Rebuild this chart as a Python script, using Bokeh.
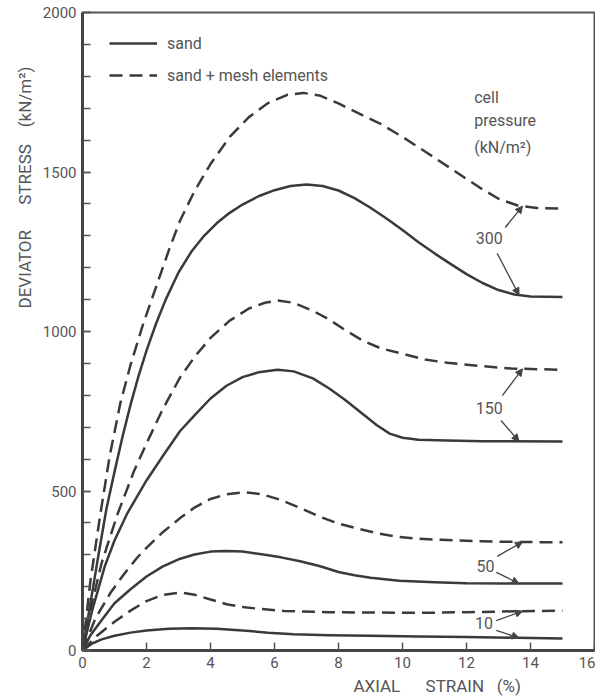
import numpy as np
from bokeh.plotting import figure
from bokeh.models import (Range1d, SingleIntervalTicker, Label, Arrow, NormalHead,
                          Legend, LegendItem, Title)
from bokeh.embed import file_html
from bokeh.resources import INLINE

# ---------------- data ----------------
# axial strain (%) / deviator stress (kN/m2)
sand_300_x = [0, 0.25, 0.5, 0.75, 1.0, 1.25, 1.5, 1.75, 2.0, 2.3, 2.6, 3.0, 3.4, 3.8, 4.2, 4.6, 5.0, 5.5, 6.0, 6.5, 7.0, 7.5, 8.0, 8.5, 9.0, 9.5, 10.0, 10.5, 11.0, 11.5, 12.0, 12.5, 13.0, 13.5, 14.0, 15.0]
sand_300_y = [0, 150, 300, 445, 560, 670, 770, 860, 940, 1025, 1100, 1185, 1250, 1300, 1340, 1372, 1398, 1424, 1443, 1456, 1461, 1456, 1442, 1418, 1388, 1354, 1318, 1280, 1245, 1212, 1180, 1152, 1130, 1116, 1110, 1108]

mesh_300_x = [0, 0.25, 0.56, 0.85, 1.18, 1.5, 1.9, 2.3, 2.7, 3.05, 3.5, 4.0, 4.6, 5.2, 5.8, 6.4, 6.9, 7.4, 8.0, 8.6, 9.3, 10.0, 10.8, 11.6, 12.4, 13.0, 13.6, 14.2, 15.0]
mesh_300_y = [0, 220, 429, 610, 774, 895, 1025, 1140, 1255, 1348, 1440, 1525, 1610, 1672, 1716, 1742, 1748, 1740, 1715, 1685, 1652, 1610, 1558, 1505, 1452, 1416, 1395, 1387, 1385]

sand_150_x = [0, 0.3, 0.7, 1.0, 1.4, 2.0, 2.5, 3.05, 3.5, 4.0, 4.5, 5.0, 5.5, 6.1, 6.6, 7.2, 7.7, 8.2, 8.7, 9.2, 9.6, 10.0, 10.5, 11.4, 12.5, 15.0]
sand_150_y = [0, 125, 265, 345, 430, 533, 608, 688, 737, 790, 830, 857, 872, 880, 875, 853, 822, 786, 746, 706, 680, 667, 661, 658, 656, 655]

mesh_150_x = [0, 0.3, 0.6, 1.1, 1.6, 2.0, 2.5, 3.05, 3.5, 4.0, 4.6, 5.2, 5.7, 6.1, 6.6, 7.2, 7.7, 8.2, 8.75, 9.3, 10.0, 10.7, 11.4, 12.4, 13.4, 15.0]
mesh_150_y = [0, 150, 275, 429, 560, 649, 755, 856, 920, 980, 1034, 1072, 1090, 1097, 1090, 1065, 1038, 1005, 972, 948, 930, 912, 902, 892, 884, 880]

sand_50_x = [0, 0.25, 0.56, 1.0, 1.5, 2.0, 2.5, 3.0, 3.5, 4.0, 4.5, 5.0, 5.6, 6.2, 6.8, 7.4, 8.0, 8.5, 9.0, 9.9, 11.0, 12.0, 13.5, 15.0]
sand_50_y = [0, 48, 90, 148, 192, 232, 263, 286, 301, 310, 312, 310, 302, 292, 280, 265, 246, 236, 228, 219, 214, 211, 210, 210]

mesh_50_x = [0, 0.4, 0.87, 1.3, 1.7, 2.0, 2.5, 3.05, 3.5, 4.0, 4.5, 5.1, 5.6, 6.2, 6.8, 7.4, 8.0, 8.6, 9.2, 9.8, 10.4, 11.2, 12.0, 13.0, 15.0]
mesh_50_y = [0, 100, 180, 240, 290, 322, 370, 415, 448, 475, 490, 496, 490, 472, 447, 420, 398, 382, 368, 357, 351, 347, 344, 341, 339]

sand_10_x = [0, 0.3, 0.6, 1.0, 1.5, 2.0, 2.7, 3.4, 4.2, 5.0, 5.8, 6.6, 7.7, 9.0, 10.5, 12.0, 13.6, 15.0]
sand_10_y = [0, 22, 35, 46, 56, 63, 68, 70, 68, 63, 56, 51, 48, 46, 44, 42, 40, 38]

mesh_10_x = [0, 0.4, 1.0, 1.5, 2.0, 2.5, 3.05, 3.5, 4.0, 4.5, 5.0, 5.5, 6.3, 7.7, 9.0, 10.5, 12.0, 13.5, 15.0]
mesh_10_y = [0, 42, 90, 125, 155, 174, 182, 175, 160, 145, 136, 131, 124, 120, 119, 118, 120, 123, 125]

cell_pressures = ["300", "150", "50", "10"]

# ---------------- styling ----------------
LINE = "#3a3a3a"
TEXT = "#555555"
FONT = "Roboto"
DASH = "13 7"
NB = "\u00a0"

p = figure(width=595, height=700, x_range=Range1d(0, 16), y_range=Range1d(0, 2000),
           output_backend="svg", toolbar_location=None,
           min_border_left=82, min_border_right=1, min_border_top=12, min_border_bottom=50)
p.background_fill_color = "white"
p.border_fill_color = "white"
p.xgrid.visible = False
p.ygrid.visible = False
p.outline_line_color = "#555555"
p.outline_line_width = 2

p.xaxis.ticker = SingleIntervalTicker(interval=2, num_minor_ticks=0)
p.yaxis.ticker = SingleIntervalTicker(interval=500, num_minor_ticks=5)
for ax in (p.xaxis, p.yaxis):
    ax.axis_line_color = "#444444"
    ax.axis_line_width = 3
    ax.major_tick_line_color = "#555555"
    ax.major_tick_line_width = 1.5
    ax.minor_tick_line_color = "#555555"
    ax.minor_tick_line_width = 1.5
    ax.major_tick_in = 8
    ax.major_tick_out = 0
    ax.minor_tick_in = 8
    ax.minor_tick_out = 0
    ax.major_label_text_font = FONT
    ax.major_label_text_font_size = "15px"
    ax.major_label_text_color = TEXT
    ax.major_label_standoff = 6

curves = [
    (sand_300_x, sand_300_y, "solid"), (mesh_300_x, mesh_300_y, DASH),
    (sand_150_x, sand_150_y, "solid"), (mesh_150_x, mesh_150_y, DASH),
    (sand_50_x, sand_50_y, "solid"), (mesh_50_x, mesh_50_y, DASH),
    (sand_10_x, sand_10_y, "solid"), (mesh_10_x, mesh_10_y, DASH),
]
renderers = []
for xs, ys, dash in curves:
    r = p.line(xs, ys, line_color=LINE, line_width=2.5, line_dash=dash, line_join="round")
    renderers.append(r)

legend = Legend(items=[LegendItem(label="sand", renderers=[renderers[0]]),
                       LegendItem(label="sand + mesh elements", renderers=[renderers[1]])],
                location=(27, 565), orientation="vertical")
legend.border_line_color = None
legend.background_fill_alpha = 0
legend.padding = 0
legend.margin = 0
legend.spacing = 12
legend.glyph_width = 48
legend.glyph_height = 20
legend.label_height = 20
legend.label_standoff = 10
legend.label_text_font = FONT
legend.label_text_font_size = "16px"
legend.label_text_color = TEXT
p.add_layout(legend)

# cell pressure heading
for txt, yy in [("cell", 1733), ("pressure", 1661), ("(kN/m²)", 1577)]:
    p.add_layout(Label(x=12.24, y=yy, text=txt, text_font=FONT, text_font_size="16px",
                       text_color=TEXT, text_align="left", text_baseline="middle"))

# curve labels with arrows
label_pos = {"300": (12.71, 1292), "150": (12.71, 759), "50": (12.59, 266), "10": (12.55, 85)}
pairs = {"300": (mesh_300_x, mesh_300_y, sand_300_x, sand_300_y),
         "150": (mesh_150_x, mesh_150_y, sand_150_x, sand_150_y),
         "50": (mesh_50_x, mesh_50_y, sand_50_x, sand_50_y),
         "10": (mesh_10_x, mesh_10_y, sand_10_x, sand_10_y)}
tails = {"300": ((13.21, 1326), (12.96, 1245)),
         "150": ((13.12, 799), (13.08, 721)),
         "50": ((12.96, 295), (12.93, 245)),
         "10": ((12.93, 94), (12.93, 63))}
for key in cell_pressures:
    lx, ly = label_pos[key]
    p.add_layout(Label(x=lx, y=ly, text=key, text_font=FONT, text_font_size="16px",
                       text_color=TEXT, text_align="center", text_baseline="middle"))
    mx, my, sx, sy = pairs[key]
    (tux, tuy), (tlx, tly) = tails[key]
    tip_up_x = 13.75
    tip_lo_x = 13.64
    for (tx, ty, hx, hy) in [(tux, tuy, tip_up_x, float(np.interp(tip_up_x, mx, my))),
                             (tlx, tly, tip_lo_x, float(np.interp(tip_lo_x, sx, sy)))]:
        p.add_layout(Arrow(x_start=tx, y_start=ty, x_end=hx, y_end=hy,
                           line_color="#444444", line_width=1.3,
                           end=NormalHead(size=7, fill_color="#444444", line_color="#444444")))

# axis titles (placed off-centre like the reference)
xt = Title(text="AXIAL" + NB * 6 + "STRAIN" + NB * 3 + "(%)", align="left", offset=271,
           standoff=7, text_font=FONT, text_font_size="17px", text_font_style="normal",
           text_color=TEXT)
p.add_layout(xt, "below")
yt = Title(text="DEVIATOR" + NB * 6 + "STRESS" + NB * 4 + "(kN/m²)", align="left",
           offset=342, standoff=10, text_font=FONT, text_font_size="17px",
           text_font_style="normal", text_color=TEXT)
p.add_layout(yt, "left")

open("out.html", "w").write(file_html(p, INLINE))
